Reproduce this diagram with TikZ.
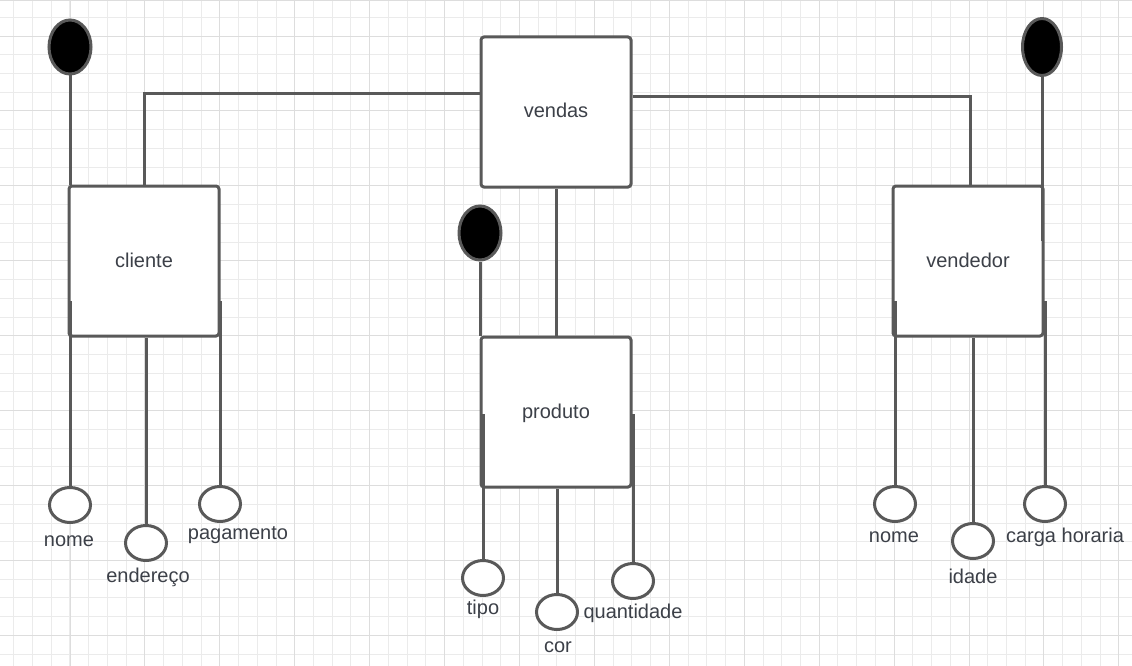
\documentclass[tikz,border=0pt]{standalone}
\usepackage{fontspec}
\setmainfont{Liberation Sans}
\usetikzlibrary{shapes.geometric}
\definecolor{edge}{RGB}{89,89,89}
\definecolor{ink}{RGB}{60,64,72}
\definecolor{gridminor}{RGB}{235,235,235}
\definecolor{gridmajor}{RGB}{221,221,221}

\begin{document}
\begin{tikzpicture}[x=1pt,y=-1pt]
\tikzstyle{every node}+=[inner sep=0pt]
\tikzstyle{entity}=[draw=edge,line width=3pt,fill=white,rounded corners=3pt,minimum width=150pt,minimum height=150pt,text=ink,font=\fontsize{20}{24}\selectfont,text height=12pt,text depth=0pt]
\tikzstyle{attr}=[ellipse,draw=edge,line width=3pt,fill=white,minimum width=41pt,minimum height=35pt]
\tikzstyle{keyattr}=[attr,fill=black,minimum width=42pt,minimum height=54pt]
\tikzstyle{lbl}=[text=ink,font=\fontsize{20}{24}\selectfont,text height=1ex,text depth=0pt,yshift=-4pt]
\tikzstyle{link}=[draw=edge,line width=3pt]
\useasboundingbox (0,0) rectangle (1132,666);
\fill [white] (0,0) rectangle (1132,666);
% grid
\foreach \i in {0,...,59} \draw [gridminor,line width=1pt] ({13.8+18.73*\i},0) -- ({13.8+18.73*\i},666);
\foreach \j in {1,...,35} \draw [gridminor,line width=1pt] (0,{-1.4+18.73*\j}) -- (1132,{-1.4+18.73*\j});
\foreach \i in {0,...,14} \draw [gridmajor,line width=1pt] ({70+74.92*\i},0) -- ({70+74.92*\i},666);
\foreach \j in {-1,...,7} \draw [gridmajor,line width=1pt] (0,{111+74.92*\j}) -- (1132,{111+74.92*\j});
\draw [gridmajor,line width=1pt] (0,0.5) -- (1132,0.5);
% entities
\node [entity] (vendas) at (556,112) {vendas};
\node [entity] (cliente) at (144,261) {cliente};
\node [entity] (vendedor) at (968,261) {vendedor};
\node [entity] (produto) at (556,412) {produto};
% key attributes
\node [keyattr] (kcliente) at (70,47) {};
\node [keyattr,minimum width=39pt,minimum height=57pt] (kvendedor) at (1042,47) {};
\node [keyattr] (kproduto) at (480,233) {};
% attributes
\node [attr] (cnome) at (70,505) {};
\node [attr] (cendereco) at (146,543) {};
\node [attr] (cpagamento) at (220,504) {};
\node [attr] (ptipo) at (483,578) {};
\node [attr] (pcor) at (557,612) {};
\node [attr] (pquantidade) at (633,581) {};
\node [attr] (vnome) at (895,504) {};
\node [attr] (vidade) at (973,541) {};
\node [attr] (vcarga) at (1045,504) {};
\node [lbl] (lcnome) at (69,540) {nome};
\node [lbl] (lcendereco) at (148,576) {endereço};
\node [lbl] (lcpagamento) at (238,533) {pagamento};
\node [lbl] (lptipo) at (483,608) {tipo};
\node [lbl] (lpcor) at (558,646) {cor};
\node [lbl] (lpquantidade) at (633,612) {quantidade};
\node [lbl] (lvnome) at (894,536) {nome};
\node [lbl] (lvidade) at (973,577) {idade};
\node [lbl] (lvcarga) at (1065,536) {carga horaria};
% relations
\draw [link] ([yshift=18pt]vendas.west) -| (cliente.north);
\draw [link] ([yshift=15pt]vendas.east) -| ([xshift=2pt]vendedor.north);
\draw [link] (vendas) -- (produto);
\draw [link] (kcliente) -- (kcliente |- cliente.north);
\draw [link] (kvendedor) -- ([yshift=-56pt]kvendedor |- vendedor.north);
\draw [link] (kproduto) -- (kproduto |- produto.north);
\draw [link] (cnome) -- ([yshift=37pt]cnome |- cliente.south);
\draw [link] (cendereco) -- (cendereco |- cliente.south);
\draw [link] (cpagamento) -- ([yshift=37pt]cpagamento |- cliente.south);
\draw [link] (ptipo) -- ([yshift=75pt]ptipo |- produto.south);
\draw [link] (pcor) -- (pcor |- produto.south);
\draw [link] (pquantidade) -- ([yshift=75pt]pquantidade |- produto.south);
\draw [link] (vnome) -- ([yshift=37pt]vnome |- vendedor.south);
\draw [link] (vidade) -- (vidade |- vendedor.south);
\draw [link] (vcarga) -- ([yshift=37pt]vcarga |- vendedor.south);
\end{tikzpicture}
\end{document}
